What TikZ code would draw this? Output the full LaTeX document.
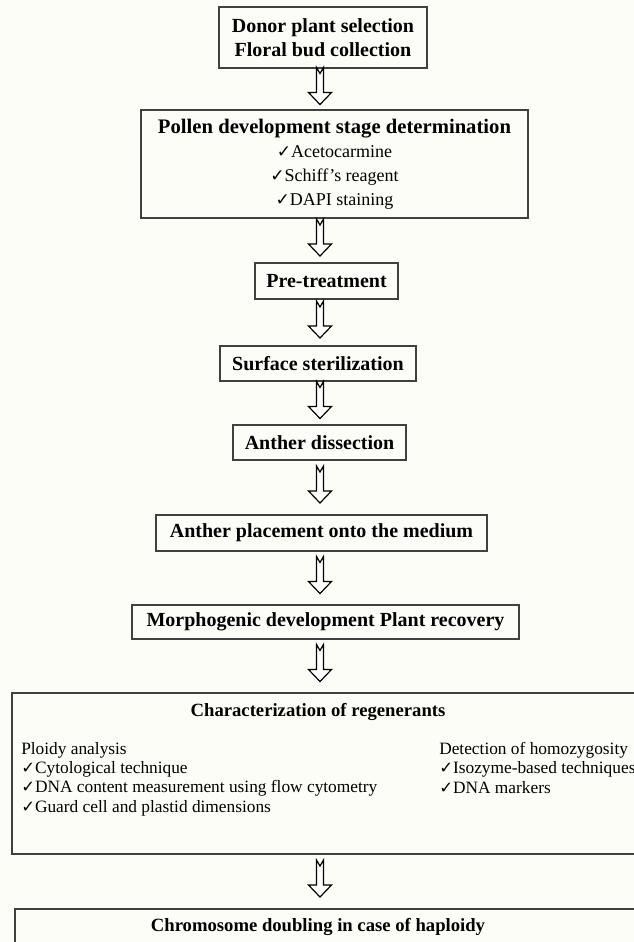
\documentclass[tikz,border=0pt]{standalone}
\usepackage{fontspec}
\setmainfont{Liberation Serif}
\newfontfamily\tickfont{DejaVu Sans}
\usetikzlibrary{calc}
\definecolor{paper}{HTML}{FDFDF8}
\newcommand{\tick}{\scalebox{0.95}{\tickfont ✓}}

\begin{document}
\begin{tikzpicture}[x=0.75pt, y=-0.75pt,
stepbox/.style={rectangle, draw=black!75, line width=0.8pt, inner sep=0pt, align=center, font=\fontsize{15}{18}\selectfont\bfseries},
listtext/.style={inner sep=0pt, anchor=north west, align=left, font=\fontsize{13}{14.5}\selectfont},
boxtitle/.style={inner sep=0pt, font=\fontsize{14}{16}\selectfont\bfseries},
hollow/.style={draw=black, line width=0.9pt, fill=white, line join=miter},
]
\fill[paper] (0,0) rectangle (634,942);
\useasboundingbox (0,0) rectangle (634,942);

%Nodes
\node[stepbox, minimum width=156pt, minimum height=45.75pt]    (donor)    at (323,37.5)  {Donor plant selection\\ Floral bud collection};
\node[stepbox, minimum width=290.25pt, minimum height=81pt]    (pollen)   at (334.5,164) {{\fontsize{15.5}{18}\selectfont Pollen development stage determination}\\
  {\mdseries\fontsize{13.5}{17}\selectfont\tick Acetocarmine}\\
  {\mdseries\fontsize{13.5}{17}\selectfont\tick Schiff's reagent}\\
  {\mdseries\fontsize{13.5}{17}\selectfont\tick DAPI staining}};
\node[stepbox, minimum width=107.25pt, minimum height=27pt]    (pretreat) at (326.5,281) {Pre-treatment};
\node[stepbox, minimum width=147pt, minimum height=26.25pt]    (surface)  at (318,363.5) {Surface sterilization};
\node[stepbox, minimum width=129.75pt, minimum height=26.25pt] (dissect)  at (319.5,442.5) {Anther dissection};
\node[stepbox, minimum width=248.25pt, minimum height=27pt]    (place)    at (321.5,533) {Anther placement onto the medium};
\node[stepbox, minimum width=290.25pt, minimum height=25.5pt]  (morpho)   at (325.5,622) {Morphogenic development Plant recovery};
\node[stepbox, minimum width=486pt, minimum height=120.75pt]   (charbox)  at (336,773.5) {};
\node[stepbox, minimum width=483.75pt, minimum height=53.25pt] (chromo)   at (337.5,944.5) {};

%Texts in the wide boxes
\node[boxtitle] (chartitle) at (318,712) {Characterization of regenerants};
\node[listtext] (ploidy) at (21,742) {Ploidy analysis\\ \tick Cytological technique\\ \tick DNA content measurement using flow cytometry\\ \tick Guard cell and plastid dimensions};
\node[listtext] (homozyg) at (439,742) {Detection of homozygosity\\ \tick Isozyme-based techniques\\ \tick DNA markers};
\node[boxtitle] (chromotitle) at (318,927) {Chromosome doubling in case of haploidy};

%Arrows
\coordinate (axis) at (320,0);
\foreach \a/\b in {donor/pollen, pollen/pretreat, pretreat/surface, surface/dissect, dissect/place, place/morpho, morpho/charbox, charbox/chromo}
{
  \coordinate (mid) at ($(\a.south)!0.5!(\b.north)$);
  \draw[hollow] (mid -| axis) ++(-3.5,-21.5) -- ++(0,25) -- ++(-8,0) -- ++(11.5,12) -- ++(11.5,-12) -- ++(-8,0) -- ++(0,-25) -- ++(-3.5,6) -- cycle;
}

\end{tikzpicture}
\end{document}
